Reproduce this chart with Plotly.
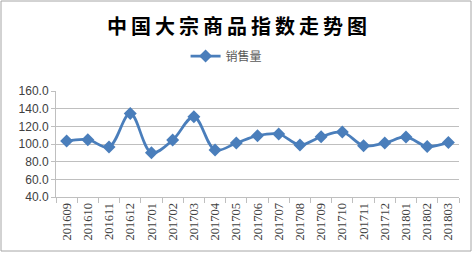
import plotly.graph_objects as go

categories = ["201609", "201610", "201611", "201612", "201701", "201702", "201703",
              "201704", "201705", "201706", "201707", "201708", "201709", "201710",
              "201711", "201712", "201801", "201802", "201803"]
sales = [103.4, 104.9, 96.6, 134.6, 90.2, 104.5, 130.8, 93.2, 101.1, 109.4, 111.3,
         98.9, 108.2, 113.6, 98.1, 101.1, 107.9, 97.3, 101.8]
y_ticks = [40, 60, 80, 100, 120, 140, 160]
y_tick_labels = ["40.0", "60.0", "80.0", "100.0", "120.0", "140.0", "160.0"]

title_text = "中国大宗商品指数走势图"
series_name = "销售量"

W, H = 474, 255
ml, mr, mt, mb = 56, 15, 91, 58
pw, ph = W - ml - mr, H - mt - mb

color = "#4a7ebb"

fig = go.Figure()
fig.add_trace(go.Scatter(
    x=categories, y=sales, name=series_name, mode="lines+markers",
    line=dict(color=color, width=2.75, shape="spline", smoothing=1.0),
    marker=dict(symbol="diamond", size=10, color=color),
))

# outer border
def px_x(v):
    return (v - ml) / pw

def px_y(v):
    return (H - mb - v) / ph

fig.add_shape(type="rect", xref="paper", yref="paper",
              x0=px_x(1), x1=px_x(471), y0=px_y(251), y1=px_y(1),
              line=dict(color="#a6a6a6", width=1), fillcolor="rgba(0,0,0,0)")

fig.update_layout(
    width=W, height=H,
    margin=dict(l=ml, r=mr, t=mt, b=mb, autoexpand=False),
    paper_bgcolor="white", plot_bgcolor="white",
    title=dict(text="\u2009".join(title_text), x=0.5, xanchor="center", xref="container",
               y=1 - 27 / H, yanchor="middle",
               font=dict(family="Noto Sans CJK SC", size=20, color="black", weight="bold")),
    showlegend=True,
    legend=dict(orientation="h", x=0.478, xref="container", xanchor="center",
                y=1 - 56 / H, yref="container", yanchor="middle",
                font=dict(family="Noto Sans CJK SC", size=12, color="#595959"),
                itemwidth=30),
    xaxis=dict(type="category", tickson="boundaries", ticks="outside", ticklen=5,
               tickcolor="#bfbfbf", showline=True, linecolor="#bfbfbf", linewidth=1,
               showgrid=False, tickangle=-90, automargin=False,
               tickfont=dict(family="Liberation Sans Narrow", size=12.5, color="#404040"),
               range=[-0.5, len(categories) - 0.5]),
    yaxis=dict(range=[40, 160], tickvals=y_ticks, ticktext=y_tick_labels,
               ticks="outside", ticklen=4, tickcolor="#bfbfbf", automargin=False,
               showline=True, linecolor="#bfbfbf", linewidth=1,
               showgrid=True, gridcolor="#bfbfbf", gridwidth=1, zeroline=False,
               tickfont=dict(family="Liberation Sans", size=12, color="#404040")),
)

fig.write_html("out.html", config={"displayModeBar": False},
               post_script="document.body.style.margin='0';document.body.style.overflow='hidden';")
